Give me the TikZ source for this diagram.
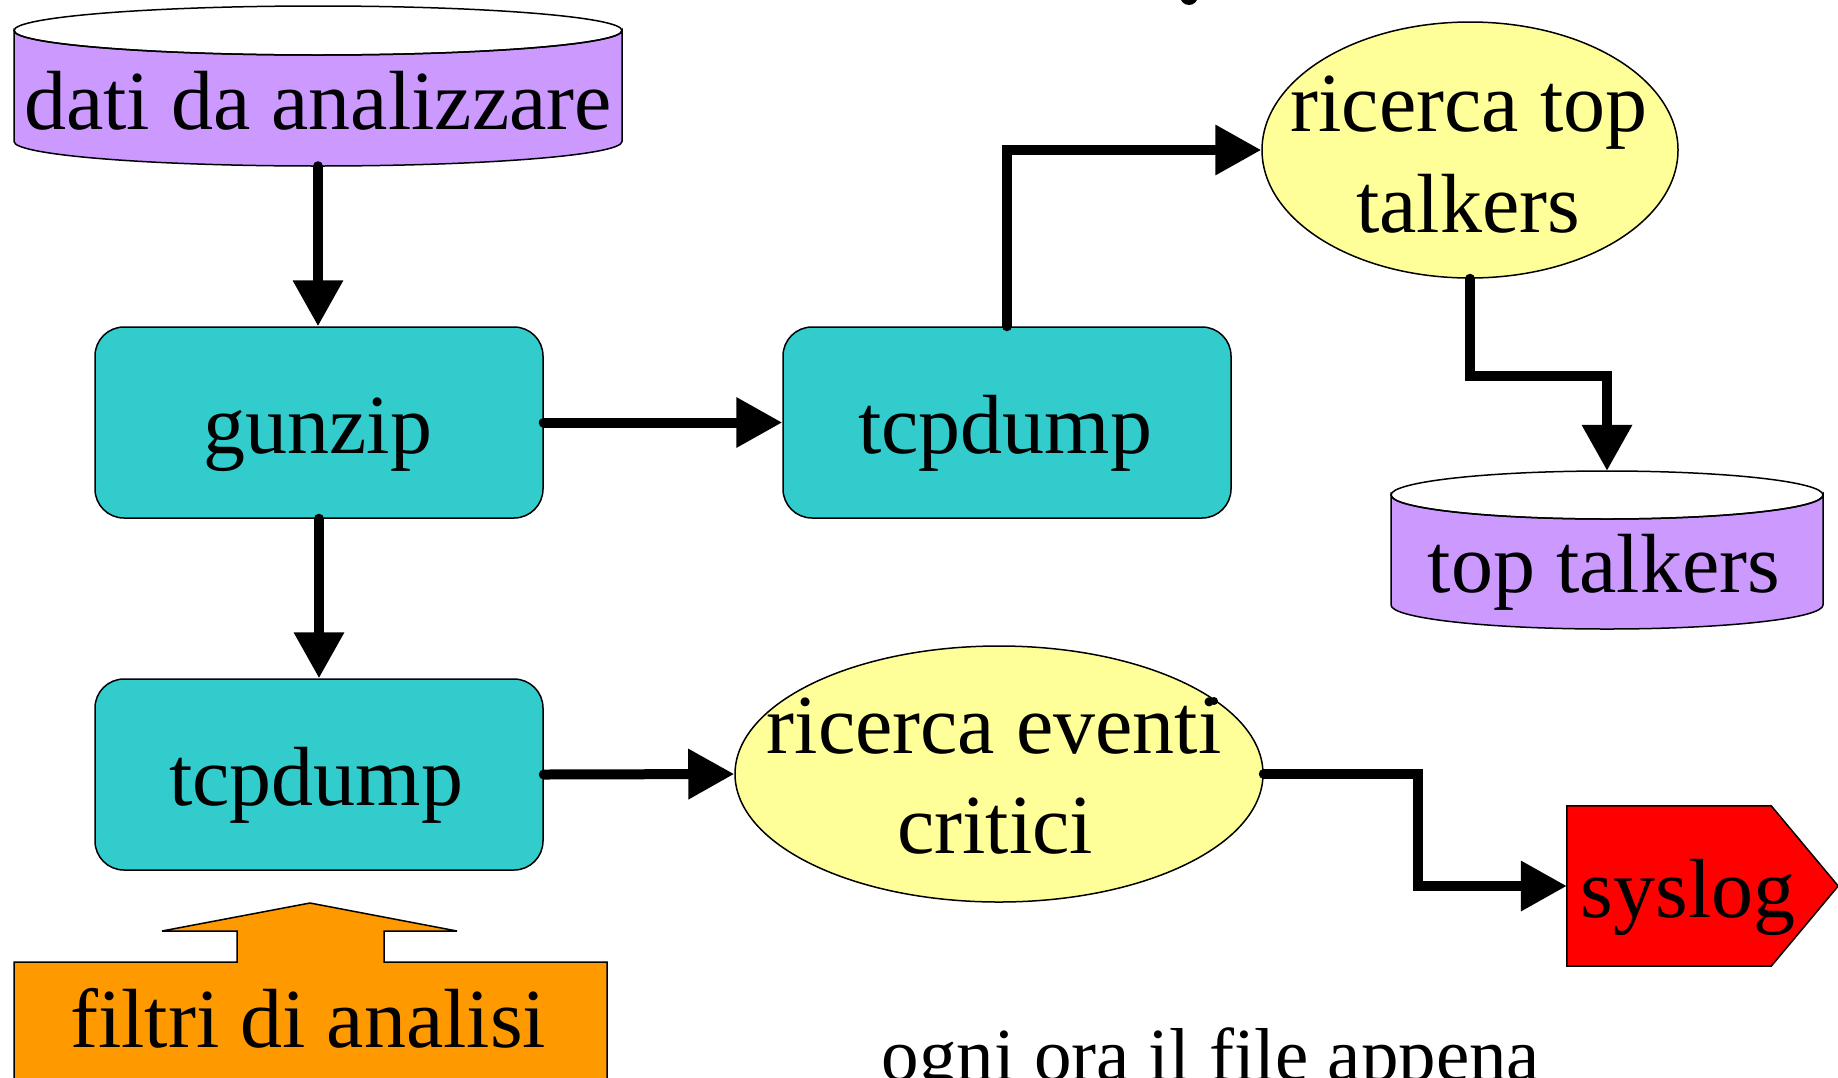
\documentclass[tikz,border=0pt]{standalone}
\usepackage{fontspec}
\setmainfont{Liberation Serif}
\usetikzlibrary{arrows.meta,shapes.geometric,calc}
\definecolor{dbpurple}{HTML}{CC99FF}
\definecolor{proccyan}{HTML}{33CCCC}
\definecolor{searchyellow}{HTML}{FFFF99}
\definecolor{alertred}{HTML}{FF0000}
\definecolor{filterorange}{HTML}{FF9900}
\begin{document}
\begin{tikzpicture}[x=1pt,y=-1pt,
  outline/.style={draw=black, line width=1.5pt},
  procbox/.style={outline, fill=proccyan, rectangle, rounded corners=29pt,
    minimum width=448pt, minimum height=191pt, inner sep=0pt},
  searchell/.style={outline, fill=searchyellow, ellipse, inner sep=0pt,
    minimum height=256pt},
  area/.style={rectangle, inner sep=0pt},
  lbl/.style={anchor=base, inner sep=0pt, font=\fontsize{84}{100}\selectfont},
  conn/.style={line width=10pt, line cap=round,
    -{Triangle[length=46pt,width=48pt]}},
]
\useasboundingbox (0,0) rectangle (1838,1077);

% ---- data stores (drums) ----
\node[area, minimum width=608pt, minimum height=160pt] (dati) at (318,86) {};
\filldraw[outline, fill=dbpurple] (14,30.5) -- (14,141.5)
  arc[start angle=180, end angle=0, x radius=304, y radius=24.5]
  -- (622,30.5)
  arc[start angle=0, end angle=180, x radius=304, y radius=24.5] -- cycle;
\draw[outline] (318,30.5) ellipse[x radius=304, y radius=24.5];
\node[lbl] (datiL) at (318,129) {dati da analizzare};

\node[area, minimum width=432pt, minimum height=158pt] (toptalk) at (1607,550) {};
\filldraw[outline, fill=dbpurple] (1391,495) -- (1391,605)
  arc[start angle=180, end angle=0, x radius=216, y radius=24]
  -- (1823,495)
  arc[start angle=0, end angle=180, x radius=216, y radius=24] -- cycle;
\draw[outline] (1607,495) ellipse[x radius=216, y radius=24];
\node[lbl] (toptalkL) at (1604,592) {top talkers};

% ---- processing steps ----
\node[procbox] (gunzip) at (319,422.5) {};
\node[lbl] (gunzipL) at (318,453) {gunzip};
\node[procbox] (tcpA) at (1007,422.5) {};
\node[lbl] (tcpAL) at (1005,453) {tcpdump};
\node[procbox] (tcpB) at (319,774.5) {};
\node[lbl] (tcpBL) at (316,805) {tcpdump};

% ---- searches ----
\node[searchell, minimum width=416pt] (talk) at (1470,150) {};
\node[lbl] (talkL1) at (1469,131) {ricerca top};
\node[lbl] (talkL2) at (1468,232) {talkers};
\node[searchell, minimum width=528pt] (crit) at (999,774) {};
\node[lbl] (critL1) at (994,753) {ricerca eventi};
\node[lbl] (critL2) at (995,853) {critici};
\fill (1214,701) circle[radius=4pt];

% ---- syslog output ----
\node[area, minimum width=204pt, minimum height=160pt] (syslog) at (1669,886) {};
\filldraw[outline, fill=alertred] (syslog.north west) -- (syslog.north east)
  -- ($(syslog.east)+(67,0)$) -- (syslog.south east) -- (syslog.south west) -- cycle;
\node[lbl] (syslogL) at (1688,917) {syslog};

% ---- analysis filters, pushing up into tcpdump ----
\node[area, minimum width=593pt, minimum height=140pt] (filtri) at (310.5,1032) {};
\filldraw[outline, fill=filterorange] (14,1100) -- (14,962) -- (237,962) -- (237,931)
  -- (162,931) -- (310,903) -- (457,931) -- (384,931) -- (384,962) -- (607,962)
  -- (607,1100) -- cycle;
\node[lbl] (filtriL) at (308,1047) {filtri di analisi};

\node[lbl, font=\fontsize{75}{90}\selectfont] (note) at (1211,1080) {ogni ora il file appena};
\fill (1189,-4) circle[radius=9pt];

% ---- flow ----
\draw[conn] (dati.south) -- (dati.south |- gunzip.north);
\draw[conn] (gunzip.east) -- (tcpA.west);
\draw[conn] (gunzip.south) -- (tcpB.north);
\draw[conn] (tcpA.north) |- (talk.west);
\draw[conn] (talk.south) -- ++(0,97) -| (toptalk.north);
\draw[conn] (tcpB.east) -- (crit.west);
\draw[conn] (crit.east) -- ++(154,0) |- (syslog.west);
\end{tikzpicture}
\end{document}
